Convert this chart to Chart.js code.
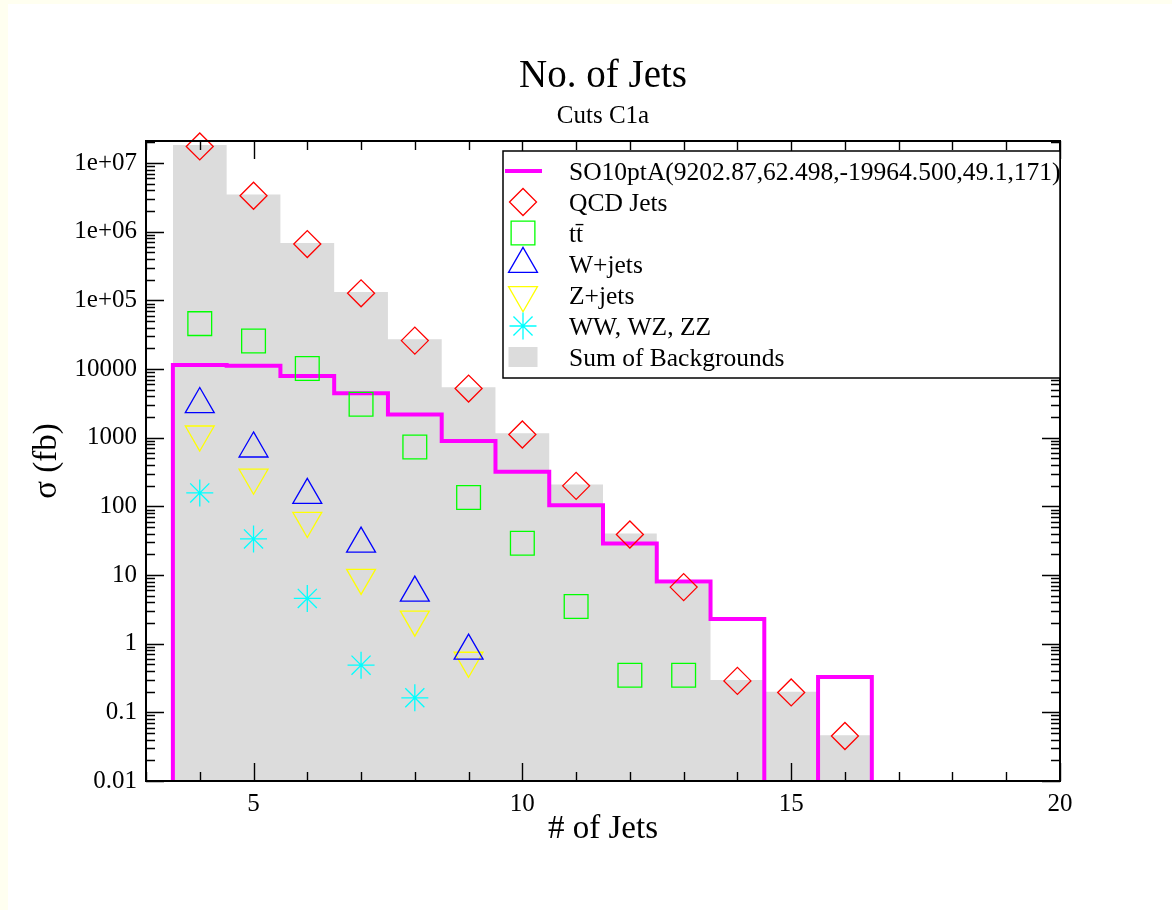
<!DOCTYPE html>
<html>
<head>
<meta charset="utf-8">
<title>No. of Jets</title>
<script src="https://cdn.jsdelivr.net/npm/chart.js@4.4.1/dist/chart.umd.min.js"></script>
<style>
  html, body { margin: 0; padding: 0; background: #fffff0; }
  #wrap { position: absolute; left: 8px; top: 4px; width: 1164px; height: 906px; background: #ffffff; }
  canvas { display: block; }
</style>
</head>
<body>
<div id="wrap"><canvas id="chart" width="1164" height="906"></canvas></div>
<script>
// ---- data: cross sections (fb) per jet multiplicity bin ----
const binCenters = [4, 5, 6, 7, 8, 9, 10, 11, 12, 13, 14, 15, 16];

const sumOfBackgrounds = [1.84e7, 3.5e6, 6.85e5, 1.33e5, 2.72e4, 5430, 1160, 208, 40.3, 7.55, 0.295, 0.200, 0.0462];
const signalSO10 = [11500, 11200, 7940, 4440, 2177, 898, 320, 104, 28.8, 8.07, 2.28, 0, 0.327];
const qcdJets = [1.75e7, 3.35e6, 6.62e5, 1.27e5, 2.60e4, 5200, 1113, 199, 39.0, 6.67, 0.287, 0.195, 0.0452];
const ttbar = [45900, 25650, 10170, 3073, 735, 135, 29.1, 3.49, 0.346, 0.346, null, null, null];
const wJets = [3075, 694, 146, 28.5, 5.51, 0.789, null, null, null, null, null, null, null];
const zJets = [1120, 263, 61.7, 9.14, 2.26, 0.567, null, null, null, null, null, null, null];
const dibosons = [157, 33.6, 4.56, 0.487, 0.163, null, null, null, null, null, null, null, null];

const seriesLabels = [
  'SO10ptA(9202.87,62.498,-19964.500,49.1,171)',
  'QCD Jets',
  'tt\u0304',
  'W+jets',
  'Z+jets',
  'WW, WZ, ZZ',
  'Sum of Backgrounds'
];

const xTickValues = [5, 10, 15, 20];
const yTickValues = [0.01, 0.1, 1, 10, 100, 1000, 10000, 1e5, 1e6, 1e7];
const yTickLabels = ['0.01', '0.1', '1', '10', '100', '1000', '10000', '1e+05', '1e+06', '1e+07'];

const X_MIN = 3, X_MAX = 20;
const Y_MIN = 0.01, Y_MAX = 2.1e7;
const BIN_WIDTH = 1;

const TITLE = 'No. of Jets';
const SUBTITLE = 'Cuts C1a';
const SERIF = '"Liberation Serif", "Times New Roman", Times, serif';

// ---- helpers turning bin arrays into chart points ----
// Outline of a histogram: each bin contributes its left and right edge at its height.
function histogramOutline(centers, values, closeToFloor) {
  const pts = [];
  const half = BIN_WIDTH / 2;
  if (closeToFloor) pts.push({ x: centers[0] - half, y: Y_MIN });
  centers.forEach((c, i) => {
    const v = values[i] > 0 ? values[i] : Y_MIN;
    pts.push({ x: c - half, y: v }, { x: c + half, y: v });
  });
  if (closeToFloor) pts.push({ x: centers[centers.length - 1] + half, y: Y_MIN });
  return pts;
}

function markerPoints(centers, values) {
  const pts = [];
  centers.forEach((c, i) => {
    if (values[i] != null) pts.push({ x: c, y: values[i] });
  });
  return pts;
}

function markerSet(label, values, color, style, radius, rotation) {
  return {
    label,
    data: markerPoints(binCenters, values),
    showLine: false,
    pointStyle: style,
    pointRadius: radius,
    pointRotation: rotation || 0,
    pointBorderColor: color,
    pointBackgroundColor: 'rgba(0,0,0,0)',
    pointBorderWidth: 1.3,
    borderColor: color,
    clip: false,
    order: 1
  };
}

// ---- plugins: titles, frame with ticks, boxed legend ----
const titlePlugin = {
  id: 'titles',
  afterDraw(chart, args, opts) {
    const { ctx, chartArea } = chart;
    const cx = (chartArea.left + chartArea.right) / 2;
    ctx.save();
    ctx.fillStyle = '#000';
    ctx.textAlign = 'center';
    ctx.textBaseline = 'alphabetic';
    ctx.font = opts.titleSize + 'px ' + SERIF;
    ctx.fillText(TITLE, cx, opts.titleBaseline);
    ctx.font = opts.subtitleSize + 'px ' + SERIF;
    ctx.fillText(SUBTITLE, cx, opts.subtitleBaseline);
    ctx.restore();
  }
};

const framePlugin = {
  id: 'frame',
  afterDatasetsDraw(chart, args, opts) {
    const { ctx, chartArea: a, scales: { x, y } } = chart;
    ctx.save();
    ctx.strokeStyle = '#000';
    ctx.lineWidth = opts.tickWidth;
    ctx.beginPath();
    // x ticks: major on labelled values, minor on every integer
    for (let v = Math.ceil(X_MIN); v <= X_MAX; v += 1) {
      const len = xTickValues.includes(v) ? opts.major : opts.minor;
      const px = Math.round(x.getPixelForValue(v)) + 0.5;
      ctx.moveTo(px, a.bottom); ctx.lineTo(px, a.bottom - len);
      ctx.moveTo(px, a.top); ctx.lineTo(px, a.top + len);
    }
    // y ticks: decades major, 2..9 minor
    for (let d = Math.log10(Y_MIN); d <= Math.log10(Y_MAX); d++) {
      for (let m = 1; m <= 9; m++) {
        const v = m * Math.pow(10, d);
        if (v > Y_MAX * 1.0001) break;
        const len = m === 1 ? opts.major : opts.minor;
        const py = Math.round(y.getPixelForValue(v)) + 0.5;
        ctx.moveTo(a.left, py); ctx.lineTo(a.left + len, py);
        ctx.moveTo(a.right, py); ctx.lineTo(a.right - len, py);
      }
    }
    ctx.stroke();
    ctx.lineWidth = opts.frameWidth;
    ctx.strokeRect(a.left, a.top, a.right - a.left, a.bottom - a.top);
    ctx.restore();
  }
};

const boxLegendPlugin = {
  id: 'boxLegend',
  afterDraw(chart, args, o) {
    const { ctx } = chart;
    ctx.save();
    ctx.fillStyle = '#fff';
    ctx.fillRect(o.left, o.top, o.right - o.left, o.bottom - o.top);
    ctx.strokeStyle = '#000';
    ctx.lineWidth = o.borderWidth;
    ctx.strokeRect(o.left, o.top, o.right - o.left, o.bottom - o.top);

    chart.data.datasets.forEach((ds, i) => {
      const cy = o.firstRow + i * o.rowStep;
      if (ds.fill) {
        ctx.fillStyle = ds.backgroundColor;
        ctx.fillRect(o.symbolX - o.boxHalf, cy - o.boxHalfH, 2 * o.boxHalf, 2 * o.boxHalfH);
      } else if (ds.showLine !== false) {
        ctx.strokeStyle = ds.borderColor;
        ctx.lineWidth = ds.borderWidth;
        ctx.beginPath();
        ctx.moveTo(o.lineFrom, cy); ctx.lineTo(o.lineTo, cy);
        ctx.stroke();
      } else {
        ctx.strokeStyle = ds.pointBorderColor;
        ctx.fillStyle = 'rgba(0,0,0,0)';
        ctx.lineWidth = ds.pointBorderWidth;
        Chart.helpers.drawPoint(ctx, {
          pointStyle: ds.pointStyle,
          rotation: ds.pointRotation,
          radius: ds.pointRadius,
          borderWidth: ds.pointBorderWidth
        }, o.symbolX, cy);
      }
      ctx.fillStyle = '#000';
      ctx.font = o.fontSize + 'px ' + SERIF;
      ctx.textAlign = 'left';
      ctx.textBaseline = 'alphabetic';
      ctx.fillText(ds.label, o.textX, cy + o.textDrop);
    });
    ctx.restore();
  }
};

// ---- chart ----
const datasets = [
  {
    label: seriesLabels[0],
    data: histogramOutline(binCenters, signalSO10, true),
    borderColor: '#ff00ff',
    borderWidth: 4,
    borderJoinStyle: 'miter',
    borderCapStyle: 'butt',
    pointRadius: 0,
    fill: false,
    order: 2,
    segment: {
      // empty bins sit on the axis floor: no stroke along the floor
      borderColor: c => (c.p0.parsed.y <= Y_MIN && c.p1.parsed.y <= Y_MIN) ? 'rgba(0,0,0,0)' : undefined
    }
  },
  markerSet(seriesLabels[1], qcdJets, '#ff0000', 'rectRot', 13.5),
  markerSet(seriesLabels[2], ttbar, '#00ff00', 'rect', 16.8),
  markerSet(seriesLabels[3], wJets, '#0000ff', 'triangle', 16.7),
  markerSet(seriesLabels[4], zJets, '#ffff00', 'triangle', 16.7, 180),
  markerSet(seriesLabels[5], dibosons, '#00ffff', 'star', 13.5),
  {
    label: seriesLabels[6],
    data: histogramOutline(binCenters, sumOfBackgrounds, false),
    borderColor: 'rgba(0,0,0,0)',
    borderWidth: 0,
    backgroundColor: '#dcdcdc',
    fill: 'start',
    pointRadius: 0,
    order: 3
  }
];

new Chart(document.getElementById('chart'), {
  type: 'line',
  data: { datasets },
  options: {
    responsive: false,
    devicePixelRatio: 1,
    animation: false,
    events: [],
    layout: { padding: { top: 137, right: 112, left: 0, bottom: 0 } },
    plugins: {
      legend: { display: false },
      tooltip: { enabled: false },
      titles: { titleSize: 39, titleBaseline: 83, subtitleSize: 25, subtitleBaseline: 119 },
      frame: { major: 18, minor: 9, tickWidth: 1.4, frameWidth: 2 },
      boxLegend: {
        left: 495, top: 147, right: 1052, bottom: 374, borderWidth: 1.5,
        firstRow: 167, rowStep: 31, symbolX: 515, textX: 561, textDrop: 8.5,
        lineFrom: 497, lineTo: 534, boxHalf: 14.5, boxHalfH: 10, fontSize: 25.5
      }
    },
    scales: {
      x: {
        type: 'linear',
        min: X_MIN,
        max: X_MAX,
        grid: { display: false, drawTicks: false },
        border: { display: false },
        afterBuildTicks: s => { s.ticks = xTickValues.map(v => ({ value: v })); },
        afterFit: s => { s.height = 129; },
        ticks: {
          autoSkip: false, maxRotation: 0, padding: 8, color: '#000',
          font: { family: SERIF, size: 25 },
          callback: v => String(v)
        },
        title: {
          display: true, text: '# of Jets', color: '#000',
          font: { family: SERIF, size: 33 },
          padding: { top: 0, bottom: 61 }
        }
      },
      y: {
        type: 'logarithmic',
        min: Y_MIN,
        max: Y_MAX,
        grid: { display: false, drawTicks: false },
        border: { display: false },
        afterBuildTicks: s => { s.ticks = yTickValues.map(v => ({ value: v })); },
        afterFit: s => { s.width = 138; },
        ticks: {
          autoSkip: false, padding: 9, color: '#000',
          font: { family: SERIF, size: 25 },
          callback: (v, i) => yTickLabels[i]
        },
        title: {
          display: true, text: 'σ (fb)', color: '#000',
          font: { family: SERIF, size: 33 },
          padding: { top: 20, bottom: 0 }
        }
      }
    }
  },
  plugins: [titlePlugin, framePlugin, boxLegendPlugin]
});
</script>
</body>
</html>
